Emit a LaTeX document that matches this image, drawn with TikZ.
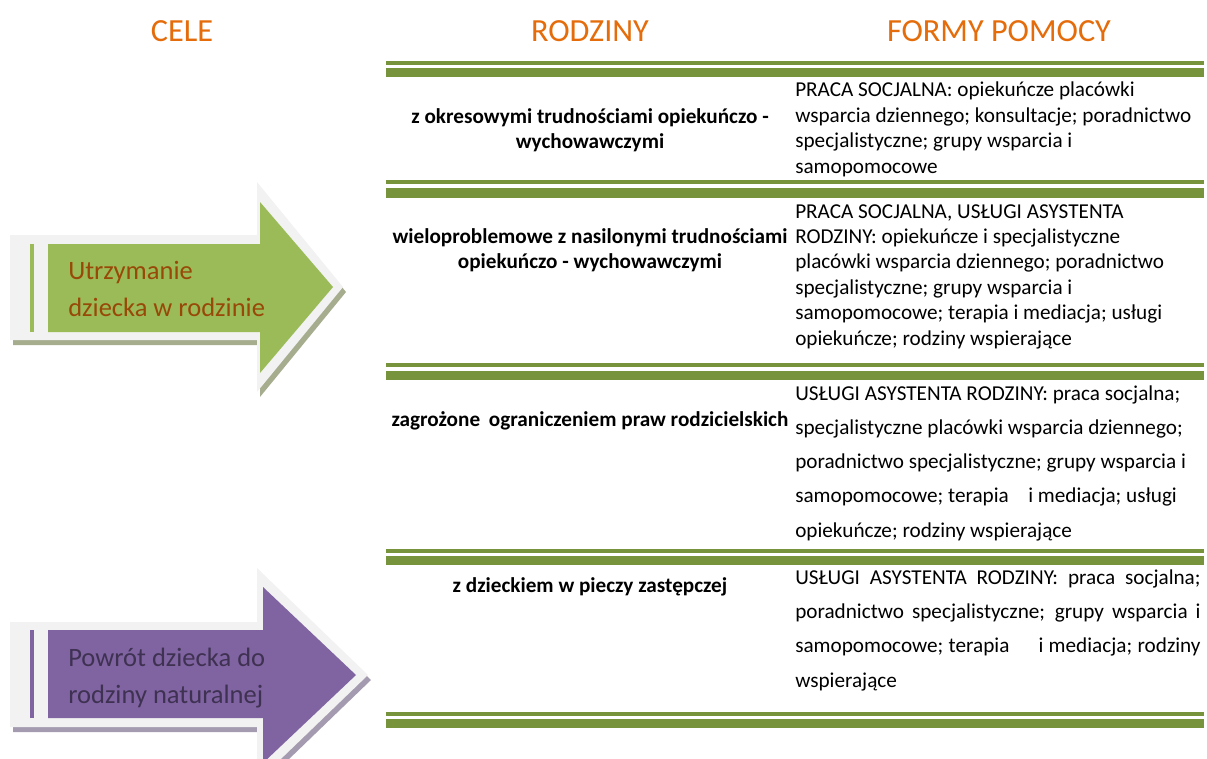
\documentclass[tikz,border=0pt]{standalone}
\usepackage{fontspec}
\setmainfont{Carlito}
\definecolor{rule}{HTML}{77933C}
\definecolor{head}{HTML}{E46C0A}
\definecolor{gfill}{HTML}{9BBB59}
\definecolor{gtext}{HTML}{984807}
\definecolor{gshadow}{HTML}{A6AD8E}
\definecolor{pfill}{HTML}{8064A2}
\definecolor{ptext}{HTML}{3F3151}
\definecolor{pshadow}{HTML}{A49BB0}
\definecolor{rim}{HTML}{F2F2F2}
\newlength{\jw}
\setlength{\jw}{304pt}
\newcommand{\jl}[1]{\makebox[\jw][s]{#1}}
\begin{document}
\begin{tikzpicture}[x=0.75pt,y=-0.75pt,
  header/.style={anchor=base,text=head,inner sep=0pt,font=\fontsize{24.2}{29}\selectfont},
  famtext/.style={anchor=base,align=center,inner sep=0pt,font=\bfseries\fontsize{15.9}{18.75}\selectfont},
  helptext/.style={anchor=base west,align=left,inner sep=0pt,font=\fontsize{15.9}{19.05}\selectfont},
  helpwide/.style={anchor=base west,align=left,inner sep=0pt,font=\fontsize{15.9}{25.6}\selectfont},
  arrowtext/.style={anchor=base west,align=left,inner sep=0pt,font=\fontsize{19.9}{27.75}\selectfont}]
\useasboundingbox (0,0) rectangle (1207,758);
\clip (0,0) rectangle (1207,758);

% rules
\foreach \a/\b/\c/\d in {61/64.5/68/77, 180/184/188/198, 363/367/371/379.5, 549/553/556/564.5, 712/716/719/728}{
  \fill[rule] (386,\a) rectangle (1204,\b);
  \fill[rule] (386,\c) rectangle (1204,\d);
}

% green arrow
\fill[gshadow] (13,240) -- (260,240) -- (260,187) -- (346,292) -- (260,397) -- (260,345) -- (13,345) -- cycle;
\fill[rim] (10,235) -- (257,235) -- (257,182) -- (343,287) -- (257,392) -- (257,340) -- (10,340) -- cycle;
\fill[gfill] (48,244) -- (260,244) -- (260,202) -- (333,287) -- (260,373) -- (260,332) -- (48,332) -- cycle;
\fill[gfill] (30,244) rectangle (34,332);

% purple arrow
\fill[pshadow] (13,627) -- (260,627) -- (260,573) -- (371,680) -- (260,787) -- (260,732) -- (13,732) -- cycle;
\fill[rim] (10,622) -- (257,622) -- (257,568) -- (368,675) -- (257,782) -- (257,727) -- (10,727) -- cycle;
\fill[pfill] (48,630) -- (263,630) -- (263,587) -- (356,675) -- (263,763) -- (263,718) -- (48,718) -- cycle;
\fill[pfill] (30,630) rectangle (34,718);

% headers
\node[header] (cele) at (182,41) {CELE};
\node[header] (rodziny) at (590,41) {RODZINY};
\node[header] (formy) at (999,41) {FORMY POMOCY};

% arrow texts (base = last line)
\node[arrowtext,text=gtext] (cel1) at (68,316) {Utrzymanie\\dziecka w rodzinie};
\node[arrowtext,text=ptext] (cel2) at (68,703) {Powrót dziecka do\\rodziny naturalnej};

% families (base = last line)
\node[famtext] (f1) at (590,148) {z okresowymi trudnościami opiekuńczo -\\wychowawczymi};
\node[famtext] (f2) at (590,268) {wieloproblemowe z nasilonymi trudnościami\\opiekuńczo - wychowawczymi};
\node[famtext] (f3) at (590,426) {zagrożone\hspace{3pt} ograniczeniem praw rodzicielskich};
\node[famtext] (f4) at (590,592) {z dzieckiem w pieczy zastępczej};

% forms of help (base = last line)
\node[helptext] (h1) at (795,173) {PRACA SOCJALNA: opiekuńcze placówki\\wsparcia dziennego; konsultacje; poradnictwo\\specjalistyczne; grupy wsparcia i\\samopomocowe};
\node[helptext] (h2) at (795,345) {PRACA SOCJALNA, USŁUGI ASYSTENTA\\RODZINY: opiekuńcze i specjalistyczne\\placówki wsparcia dziennego; poradnictwo\\specjalistyczne; grupy wsparcia i\\samopomocowe; terapia i mediacja; usługi\\opiekuńcze; rodziny wspierające};
\node[helpwide] (h3) at (795,537) {USŁUGI ASYSTENTA RODZINY: praca socjalna;\\specjalistyczne placówki wsparcia dziennego;\\poradnictwo specjalistyczne; grupy wsparcia i\\samopomocowe; terapia\hspace{11pt} i mediacja; usługi\\opiekuńcze; rodziny wspierające};
\node[helpwide] (h4) at (795,687) {\jl{USŁUGI ASYSTENTA RODZINY: praca socjalna;}\\\jl{poradnictwo specjalistyczne; grupy wsparcia i}\\\jl{samopomocowe; terapia\hspace{18pt} i mediacja; rodziny}\\wspierające};
\end{tikzpicture}
\end{document}
